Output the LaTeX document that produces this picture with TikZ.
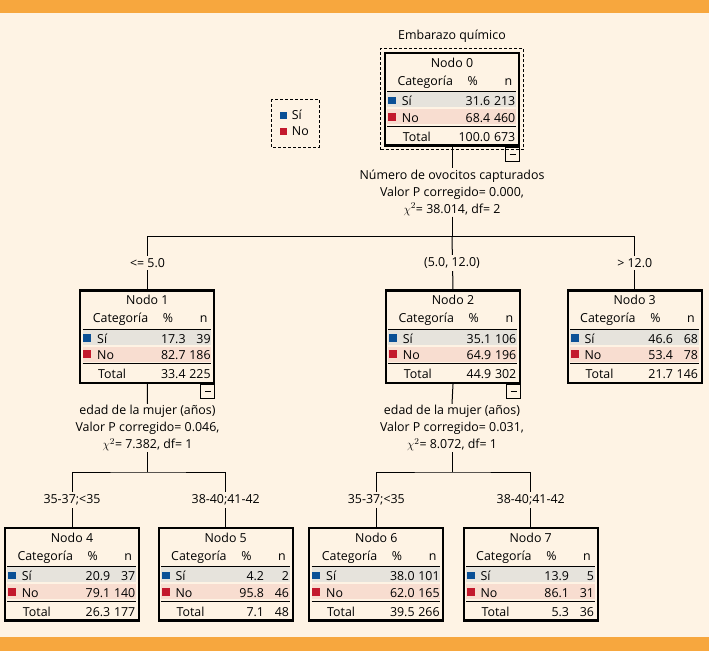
\documentclass[tikz,border=0pt]{standalone}
\usepackage{fontspec}
\setmainfont{Open Sans}
\usetikzlibrary{fit}
\definecolor{fondo}{RGB}{254,243,228}
\definecolor{naranja}{RGB}{247,167,62}
\definecolor{gris}{RGB}{230,227,220}
\definecolor{rosa}{RGB}{248,221,208}
\definecolor{azul}{RGB}{10,80,150}
\definecolor{rojo}{RGB}{195,25,45}
\tikzset{
  caja/.style={draw, line width=2.2pt, minimum width=134pt, minimum height=92.5pt, inner sep=0pt},
  celda/.style={inner sep=0pt},
  menos/.style={draw, line width=1.1pt, minimum size=14pt, inner sep=0pt,
    path picture={\draw[line width=0.9pt] ([xshift=-3pt]path picture bounding box.center) -- ([xshift=3pt]path picture bounding box.center);}},
  trazos/.style={draw, line width=0.9pt, dash pattern=on 3pt off 2pt},
  rama/.style={line width=1pt},
  corte/.style={fill=fondo, inner sep=2.5pt},
  texto/.style={align=center, inner sep=1pt, font=\fontsize{12.4}{17}\selectfont}
}
\begin{document}
\begin{tikzpicture}[x=1pt, y=-1pt, font=\fontsize{12.4}{14}\selectfont]
\fill[fondo] (0,0) rectangle (709,651);
\fill[naranja] (0,0) rectangle (709,13);
\fill[naranja] (0,637) rectangle (709,651);

\node[celda, anchor=base] (titulo) at (452,39) {Embarazo químico};

% leyenda
\draw[trazos] (271.7,99.3) rectangle (319,147.7);
\fill[azul] (280,112.3) rectangle +(7,7);
\fill[rojo] (280,128.3) rectangle +(7,7);
\node[celda, anchor=base west] (leysi) at (291.7,119.3) {Sí};
\node[celda, anchor=base west] (leyno) at (291.7,135.3) {No};

% tablas de los nodos
\foreach \k/\px/\py/\ps/\ns/\pn/\nn/\pt/\nt in {
  0/384/52/31.6/213/68.4/460/100.0/673,
  1/79.3/289.5/17.3/39/82.7/186/33.4/225,
  2/385/289.5/35.1/106/64.9/196/44.9/302,
  3/566.7/289.5/46.6/68/53.4/78/21.7/146,
  4/4/527/20.9/37/79.1/140/26.3/177,
  5/157.7/527/4.2/2/95.8/46/7.1/48,
  6/308.3/527/38.0/101/62.0/165/39.5/266,
  7/462.7/527/13.9/5/86.1/31/5.3/36}{
\begin{scope}[shift={(\px,\py)}]
  \fill[gris] (3.3,39.3) rectangle (132,55);
  \fill[rosa] (3.3,57) rectangle (132,72.3);
  \draw (3.3,39.3) -- (132,39.3) (3.3,74) -- (132,74);
  \fill[azul] (4,44.5) rectangle (12,52.3);
  \fill[rojo] (4,60.8) rectangle (12,68.6);
  \node[caja] (n\k) at (68,47.3) {};
  \node[celda, anchor=base] (tit\k) at (68,15) {Nodo \k};
  \node[celda, anchor=base west] (cat\k) at (13.3,33.3) {Categoría};
  \node[celda, anchor=base] (por\k) at (88.7,33.3) {\%};
  \node[celda, anchor=base] (ene\k) at (124.3,33.3) {n};
  \node[celda, anchor=base west] (si\k) at (17.7,53.7) {Sí};
  \node[celda, anchor=base east] (psi\k) at (106.5,53.7) {\ps};
  \node[celda, anchor=base east] (nsi\k) at (131.5,53.7) {\ns};
  \node[celda, anchor=base west] (no\k) at (17.7,70) {No};
  \node[celda, anchor=base east] (pno\k) at (106.5,70) {\pn};
  \node[celda, anchor=base east] (nno\k) at (131.5,70) {\nn};
  \node[celda, anchor=base west] (tot\k) at (18.7,89.3) {Total};
  \node[celda, anchor=base east] (ptot\k) at (106.5,89.3) {\pt};
  \node[celda, anchor=base east] (ntot\k) at (131.5,89.3) {\nt};
\end{scope}
}

\node[trazos, fit=(n0), inner sep=3.2pt] (marco) {};
\node[menos, anchor=north east] (m0) at (n0.south east) {};
\node[menos, anchor=north east] (m1) at (n1.south east) {};
\node[menos, anchor=north east] (m2) at (n2.south east) {};

% primer corte
\node[texto] (s0) at (452,192.5) {Número de ovocitos capturados\\Valor P corregido= 0.000,\\$\chi^2$= 38.014, df= 2};
\coordinate (b0) at (452,236.5);
\draw[rama] (n0.south) -- (s0.north);
\draw[rama] (s0.south) -- (b0);
\draw[rama] (n1.north) |- (b0) -| (n3.north);
\draw[rama] (n2.north) -- (b0);
\node[corte] (c1) at (147.5,262.7) {<= 5.0};
\node[corte] (c2) at (452,262.7) {(5.0, 12.0)};
\node[corte] (c3) at (634.7,262.7) {> 12.0};

% segundo corte, nodo 1
\node[texto] (s1) at (147.5,428) {edad de la mujer (años)\\Valor P corregido= 0.046,\\$\chi^2$= 7.382, df= 1};
\coordinate (b1) at (147.5,472);
\draw[rama] (n1.south) -- (s1.north);
\draw[rama] (s1.south) -- (b1);
\draw[rama] (n4.north) |- (b1) -| (n5.north);
\node[corte] (c4) at (72,500) {35-37;<35};
\node[corte] (c5) at (225.7,500) {38-40;41-42};

% segundo corte, nodo 2
\node[texto] (s2) at (452,428) {edad de la mujer (años)\\Valor P corregido= 0.031,\\$\chi^2$= 8.072, df= 1};
\coordinate (b2) at (452,472);
\draw[rama] (n2.south) -- (s2.north);
\draw[rama] (s2.south) -- (b2);
\draw[rama] (n6.north) |- (b2) -| (n7.north);
\node[corte] (c6) at (376.3,500) {35-37;<35};
\node[corte] (c7) at (530.7,500) {38-40;41-42};
\end{tikzpicture}
\end{document}
